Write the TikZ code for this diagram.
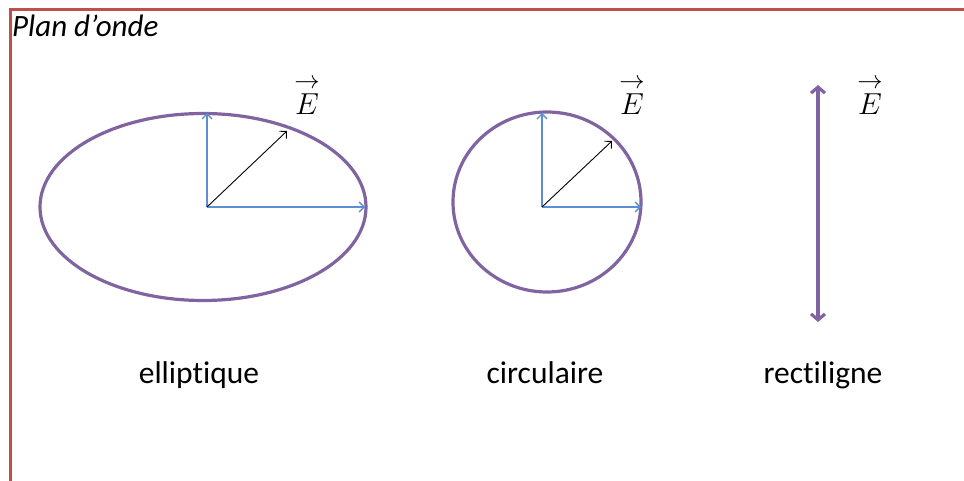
\documentclass[tikz,border=0pt]{standalone}
\usepackage{amsmath}
\usepackage{graphicx}
\usepackage{fontspec}
\setmainfont[Ligatures=NoCommon]{Carlito}
\usetikzlibrary{arrows.meta,shapes.geometric}
\definecolor{fr}{HTML}{C0504D}
\definecolor{pu}{HTML}{8064A2}
\definecolor{bl}{HTML}{5B8FD0}
\tikzset{
  comp/.style={draw=bl, line width=1.3pt, -{Straight Barb[length=5pt,width=10pt]}},
  evec/.style={draw=black, line width=0.9pt, -{Straight Barb[length=5pt,width=10pt]}},
  pol/.style={draw=pu, line width=3.2pt},
  lab/.style={font=\fontsize{31.5}{34}\selectfont, inner sep=0pt, anchor=base},
  elab/.style={font=\fontsize{24.88}{30}\selectfont, inner sep=0pt, anchor=base}
}
\newcommand{\vecE}{\scalebox{1.22}{$\overset{\rightarrow}{E}$}}
\begin{document}
\begin{tikzpicture}[x=1pt,y=-1pt]
\useasboundingbox (0,0) rectangle (964,481);
\coordinate (fa) at (964,10);
\coordinate (fb) at (10,10);
\coordinate (fc) at (10,481);
\draw[fr, line width=3pt] (fa) -- (fb) -- (fc);
\node[anchor=base west, inner sep=0pt, font=\fontsize{31}{34}\selectfont\itshape] (title) at (12,37) {Plan d’onde};
% elliptique
\node[pol, ellipse, minimum width=326pt, minimum height=187pt, inner sep=0pt] (ell) at (203,207) {};
\coordinate (o1) at (207,207);
\coordinate (v1) at (207,113);
\coordinate (h1) at (365,207);
\coordinate (e1) at (287,131);
\draw[comp] (o1) -- (v1);
\draw[comp] (o1) -- (h1);
\draw[evec] (o1) -- (e1);
\node[elab] (E1) at (307,115) {\vecE};
\node[lab] (t1) at (199,383) {elliptique};
% circulaire
\node[pol, ellipse, minimum width=188pt, minimum height=180pt, inner sep=0pt] (cir) at (547,202) {};
\coordinate (o2) at (542,207);
\coordinate (v2) at (542,113);
\coordinate (h2) at (641,207);
\coordinate (e2) at (612,141);
\draw[comp] (o2) -- (v2);
\draw[comp] (o2) -- (h2);
\draw[evec] (o2) -- (e2);
\node[elab] (E2) at (632,115) {\vecE};
\node[lab] (t2) at (545,383) {circulaire};
% rectiligne
\coordinate (r1) at (818,85);
\coordinate (r2) at (818,322);
\draw[pol, {Straight Barb[length=6pt,width=14pt]}-{Straight Barb[length=6pt,width=14pt]}] (r1) -- (r2);
\node[elab] (E3) at (870,115) {\vecE};
\node[lab] (t3) at (823,383) {rectiligne};
\end{tikzpicture}
\end{document}
